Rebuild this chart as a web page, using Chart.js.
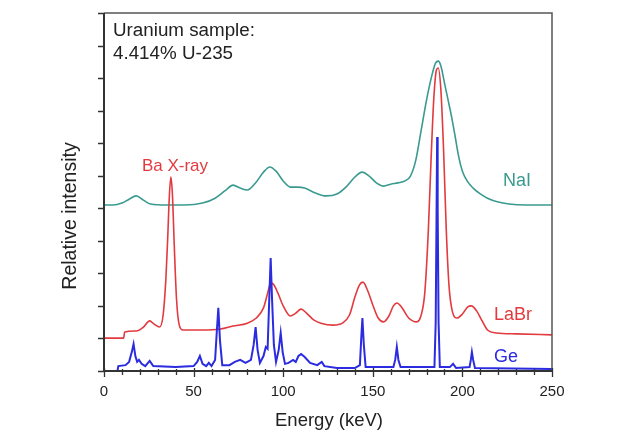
<!DOCTYPE html>
<html>
<head>
<meta charset="utf-8">
<script src="https://cdn.jsdelivr.net/npm/chart.js@4.4.1/dist/chart.umd.min.js"></script>
<style>
  html, body { margin: 0; padding: 0; background: #fff; }
  #wrap { width: 630px; height: 436px; }
</style>
</head>
<body>
<div id="wrap"><canvas id="chart" width="630" height="436"></canvas></div>
<script>
// energies (keV) and intensities, one pair of arrays per detector
const naiE = [0, 5, 10, 14, 18, 22, 26, 35, 45, 55, 62, 68, 72, 76, 80, 85, 89, 92.5, 96, 100, 104, 108, 112, 118, 124, 130, 135, 140, 144, 148, 152, 156, 160, 164, 168, 171, 174, 177, 180, 183, 185, 186.5, 188, 190, 192, 194, 196, 198, 200, 203, 206, 210, 214, 220, 226, 235, 250];
const naiI = [5.10, 5.10, 5.16, 5.28, 5.38, 5.25, 5.13, 5.10, 5.10, 5.16, 5.31, 5.56, 5.71, 5.62, 5.56, 5.81, 6.11, 6.27, 6.14, 5.84, 5.65, 5.65, 5.62, 5.47, 5.38, 5.44, 5.65, 5.96, 6.11, 5.99, 5.78, 5.68, 5.74, 5.78, 5.84, 5.99, 6.48, 7.40, 8.33, 9.09, 9.46, 9.52, 9.37, 8.85, 8.33, 7.80, 7.19, 6.57, 6.14, 5.81, 5.62, 5.44, 5.31, 5.19, 5.13, 5.10, 5.10];

const labrE = [0, 11, 11.5, 18, 22, 25.5, 28, 31, 33, 34.5, 35.5, 36.5, 37.3, 38.2, 39.2, 40.5, 42, 44, 55, 65, 72, 80, 85, 89, 91.5, 93, 94.5, 97, 100, 104, 107, 110, 113, 117, 121, 128, 133, 137, 140, 142.5, 144.5, 147, 150, 153, 156, 159, 161.5, 163.5, 166, 170, 174.5, 177, 179, 181, 182.5, 184, 185.5, 186.5, 188, 189.5, 191, 192.5, 194.5, 197, 200, 203, 205, 208, 211, 214, 219, 230, 250];
const labrI = [1.01, 1.01, 1.20, 1.23, 1.35, 1.54, 1.44, 1.35, 1.72, 2.80, 4.02, 5.41, 5.96, 5.41, 3.87, 2.18, 1.41, 1.26, 1.26, 1.29, 1.38, 1.47, 1.63, 1.94, 2.43, 2.70, 2.67, 2.40, 2.00, 1.69, 1.78, 1.90, 1.78, 1.57, 1.47, 1.41, 1.47, 1.72, 2.27, 2.64, 2.73, 2.49, 2.03, 1.63, 1.51, 1.69, 2.00, 2.09, 1.97, 1.63, 1.51, 1.72, 2.40, 4.33, 6.48, 8.33, 9.25, 9.31, 8.63, 6.79, 4.33, 2.64, 1.81, 1.63, 1.75, 1.97, 2.00, 1.84, 1.54, 1.26, 1.17, 1.14, 1.11];

const geE = [0, 7.5, 8, 12, 14, 15.5, 16.5, 17.5, 18.5, 19.5, 21, 23, 25.5, 27.5, 40, 50, 52, 53.5, 55, 57, 58.5, 60, 62, 63, 63.8, 64.7, 66, 70, 73, 76, 79, 82, 83.5, 84.6, 85.7, 87, 89, 90.3, 91.3, 92.2, 93, 93.8, 94.8, 96, 97.5, 98.6, 99.7, 101, 103, 105.5, 107, 108.5, 110, 112, 115, 119, 121.5, 123, 130, 140, 142.8, 143.5, 144.2, 145, 146, 161.5, 162.5, 163.4, 164.3, 165.5, 184.4, 185.1, 185.6, 185.9, 186.2, 186.7, 187.4, 193, 194.8, 196.5, 204, 204.7, 205.3, 206, 207, 250];
const geI = [0, 0, 0.15, 0.18, 0.28, 0.58, 0.83, 0.46, 0.28, 0.34, 0.22, 0.15, 0.31, 0.15, 0.12, 0.15, 0.28, 0.46, 0.22, 0.15, 0.25, 0.15, 0.34, 1.26, 1.94, 0.95, 0.18, 0.18, 0.28, 0.34, 0.25, 0.34, 0.80, 1.35, 0.65, 0.25, 0.46, 0.74, 0.68, 2.18, 3.47, 2.18, 0.80, 0.28, 0.65, 1.17, 0.58, 0.22, 0.25, 0.34, 0.28, 0.46, 0.52, 0.43, 0.25, 0.18, 0.28, 0.15, 0.09, 0.09, 0.18, 0.95, 1.63, 0.80, 0.12, 0.12, 0.34, 0.74, 0.34, 0.12, 0.12, 1.50, 5.00, 7.19, 5.00, 1.50, 0.12, 0.12, 0.22, 0.09, 0.12, 0.34, 0.58, 0.34, 0.09, 0.06];

const xTicks = [0, 50, 100, 150, 200, 250];
const xMinorStep = 10;
const yTickStep = 1;

const FONT = '"Liberation Sans", Arial, Helvetica, sans-serif';
const TEAL = '#3a9a90';
const RED = '#e23a3e';
const BLUE = '#2b2be0';

const toXY = (es, vs) => es.map((e, i) => ({ x: e, y: vs[i] }));

// frame, ticks, axis titles and the labels next to each curve
const decor = {
    id: 'decor',
    afterDatasetsDraw(chart) {
        const { ctx, chartArea: a, scales: { x, y } } = chart;
        ctx.save();

        ctx.strokeStyle = '#555';
        ctx.lineWidth = 1.5;
        ctx.beginPath();
        ctx.moveTo(a.left, a.top);
        ctx.lineTo(a.right, a.top);
        ctx.lineTo(a.right, a.bottom);
        ctx.stroke();

        ctx.strokeStyle = '#333';
        ctx.lineWidth = 2;
        ctx.beginPath();
        ctx.moveTo(a.left, a.top);
        ctx.lineTo(a.left, a.bottom);
        ctx.lineTo(a.right, a.bottom);
        ctx.stroke();

        ctx.lineWidth = 1.3;
        ctx.beginPath();
        for (let v = y.min; v <= y.max; v += yTickStep) {
            const py = Math.round(y.getPixelForValue(v)) + 0.5;
            ctx.moveTo(a.left - 6, py);
            ctx.lineTo(a.left, py);
        }
        for (let v = x.min; v <= x.max; v += xMinorStep) {
            const px = Math.round(x.getPixelForValue(v)) + 0.5;
            if (xTicks.includes(v)) {
                ctx.moveTo(px, a.bottom - 3);
                ctx.lineTo(px, a.bottom + 6);
            } else {
                ctx.moveTo(px, a.bottom - 2);
                ctx.lineTo(px, a.bottom + 4);
            }
        }
        ctx.stroke();

        ctx.fillStyle = '#222';
        ctx.font = '15px ' + FONT;
        ctx.textAlign = 'center';
        ctx.textBaseline = 'middle';
        xTicks.forEach(v => ctx.fillText(String(v), x.getPixelForValue(v), 392));

        ctx.font = '18.5px ' + FONT;
        ctx.fillText('Energy (keV)', (a.left + a.right) / 2 + 1, 421);

        ctx.save();
        ctx.translate(71, 216);
        ctx.rotate(-Math.PI / 2);
        ctx.font = '19.5px ' + FONT;
        ctx.fillText('Relative intensity', 0, 0);
        ctx.restore();

        ctx.font = '18.8px ' + FONT;
        ctx.textAlign = 'left';
        ctx.fillText('Uranium sample:', 113, 31);
        ctx.fillText('4.414% U-235', 113, 54);

        ctx.font = '17px ' + FONT;
        ctx.textAlign = 'center';
        ctx.fillStyle = RED;
        ctx.fillText('Ba X-ray', 175, 166);
        ctx.font = '18px ' + FONT;
        ctx.fillText('LaBr', 513, 315);
        ctx.fillStyle = TEAL;
        ctx.fillText('NaI', 517, 181);
        ctx.fillStyle = BLUE;
        ctx.fillText('Ge', 506, 357);

        ctx.restore();
    }
};

new Chart(document.getElementById('chart'), {
    type: 'line',
    data: {
        datasets: [{
            label: 'NaI',
            data: toXY(naiE, naiI),
            borderColor: TEAL,
            borderWidth: 1.6,
            cubicInterpolationMode: 'monotone',
            order: 3
        }, {
            label: 'LaBr',
            data: toXY(labrE, labrI),
            borderColor: RED,
            borderWidth: 1.6,
            cubicInterpolationMode: 'monotone',
            order: 2
        }, {
            label: 'Ge',
            data: toXY(geE, geI),
            borderColor: BLUE,
            borderWidth: 2,
            tension: 0,
            order: 1
        }]
    },
    options: {
        responsive: false,
        animation: false,
        devicePixelRatio: 1,
        layout: { padding: { left: 104, right: 78, top: 13, bottom: 65 } },
        elements: { point: { radius: 0 } },
        plugins: { legend: { display: false }, tooltip: { enabled: false } },
        scales: {
            x: { type: 'linear', min: 0, max: 250, display: false },
            y: { type: 'linear', min: 0, max: 11, display: false }
        }
    },
    plugins: [decor]
});
</script>
</body>
</html>
